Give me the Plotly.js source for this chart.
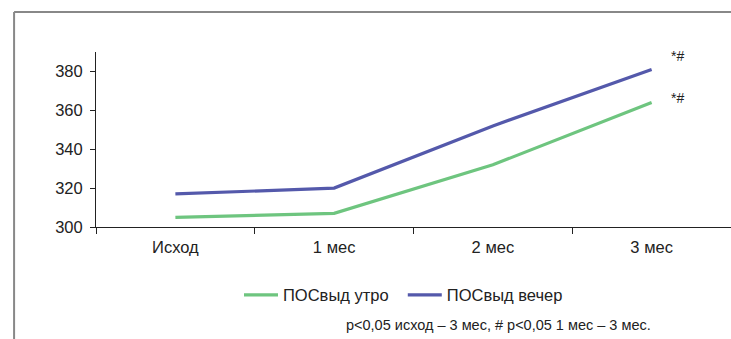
<!DOCTYPE html>
<html>
<head>
<meta charset="utf-8">
<script src="https://cdn.plot.ly/plotly-3.0.1.min.js"></script>
<style>html,body{margin:0;padding:0;background:#fff;overflow:hidden}</style>
</head>
<body>
<div id="chart" style="width:731px;height:339px"></div>
<script>
var categories = ["Исход", "1 мес", "2 мес", "3 мес"];
var morning = [305, 307, 332, 364];
var evening = [317, 320, 352, 381];
var seriesNames = ["ПОСвыд утро\u00a0\u00a0", "ПОСвыд вечер"];
var markText = "*#";
var footnote = "p<0,05 исход – 3 мес, # p<0,05 1 мес – 3 мес.";
var yTicks = [300, 320, 340, 360, 380];

var fam = "Liberation Sans, Arial, sans-serif";
var font = {family: fam, size: 16, color: "#222"};

var traces = [
  {x: categories, y: morning, name: seriesNames[0], type: "scatter", mode: "lines",
   line: {color: "#6ec57f", width: 3.2}},
  {x: categories, y: evening, name: seriesNames[1], type: "scatter", mode: "lines",
   line: {color: "#5459ab", width: 3.2}}
];

var layout = {
  width: 731, height: 339,
  margin: {l: 96, r: 0, t: 52, b: 112},
  paper_bgcolor: "#fff", plot_bgcolor: "#fff",
  font: font,
  showlegend: true,
  legend: {orientation: "h", x: 0.2252, xanchor: "left", y: -0.389, yanchor: "middle",
           font: {family: fam, size: 16.5, color: "#222"}, itemwidth: 34, tracegroupgap: 0},
  xaxis: {type: "category", range: [-0.5, 3.5], showline: true, linecolor: "#222", linewidth: 1,
          ticks: "outside", tickson: "boundaries", ticklen: 6, tickcolor: "#222",
          ticklabelstandoff: 5,
          showgrid: false, zeroline: false, tickfont: {family: fam, size: 16.5, color: "#222"}},
  yaxis: {range: [300, 390], tickvals: yTicks, showline: true, linecolor: "#222", linewidth: 1,
          ticks: "outside", ticklen: 5, tickcolor: "#222", showgrid: false, zeroline: false,
          ticklabelstandoff: 4,
          tickfont: {family: fam, size: 16.5, color: "#222"}},
  annotations: [
    {xref: "x", yref: "y", x: categories[3], y: evening[3], text: markText, showarrow: false,
     xshift: 26, yshift: 14, font: {family: fam, size: 14, color: "#222"}},
    {xref: "x", yref: "y", x: categories[3], y: morning[3], text: markText, showarrow: false,
     xshift: 26, yshift: 5, font: {family: fam, size: 14, color: "#222"}},
    {xref: "paper", yref: "paper", x: 0.6335, y: -0.56, text: footnote, showarrow: false,
     xanchor: "center", yanchor: "middle", font: {family: fam, size: 14.5, color: "#222"}}
  ],
  shapes: [
    {type: "line", xref: "paper", yref: "paper", x0: -0.129, x1: 1.01, y0: 1.228, y1: 1.228,
     line: {color: "#888", width: 2}},
    {type: "line", xref: "paper", yref: "paper", x0: -0.129, x1: -0.129, y0: 1.228, y1: -0.7,
     line: {color: "#888", width: 2}}
  ]
};

Plotly.newPlot("chart", traces, layout, {displayModeBar: false, staticPlot: true});
</script>
</body>
</html>
